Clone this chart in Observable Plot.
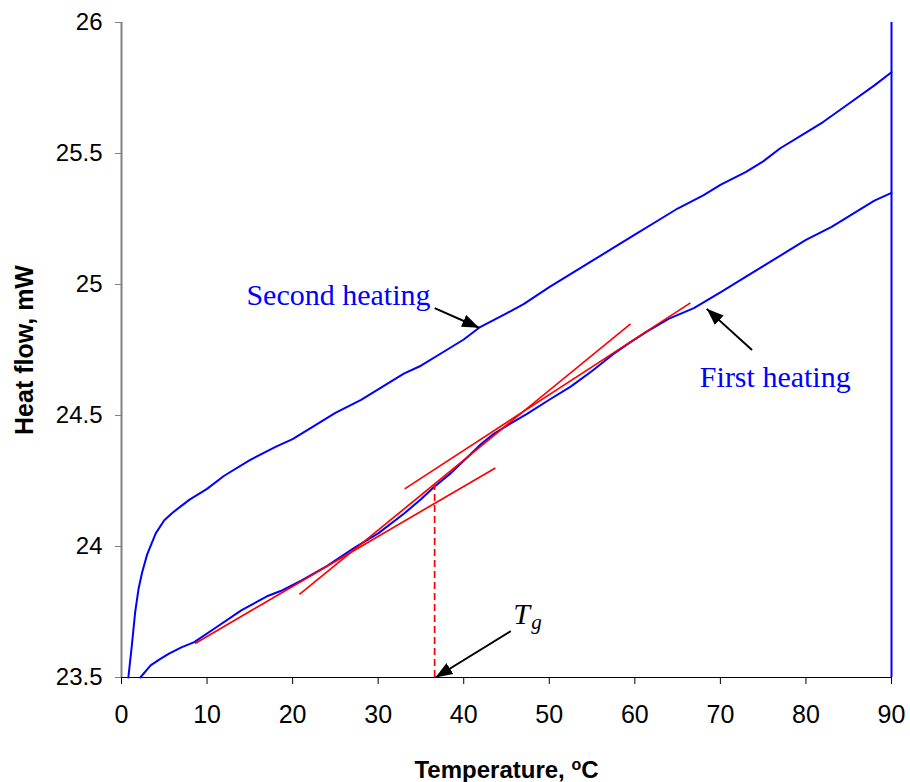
<!DOCTYPE html>
<html>
<head>
<meta charset="utf-8">
<script src="https://cdn.jsdelivr.net/npm/d3@7"></script>
<script src="https://cdn.jsdelivr.net/npm/@observablehq/plot@0.6"></script>
<style>
  html, body { margin: 0; padding: 0; background: white; }
</style>
</head>
<body>
<div id="chart"></div>
<script>
// ---- Data ----
const xTicks = [0, 10, 20, 30, 40, 50, 60, 70, 80, 90];
const yTicks = [23.5, 24, 24.5, 25, 25.5, 26];

// Second heating (temperature °C, heat flow mW)
const secondT  = [0.8, 1.2, 1.6, 2.0, 2.4, 3.0, 3.5, 4.0, 5.0, 6.0, 7.0, 8.0, 10, 12, 15, 18, 20, 22, 25, 28, 30, 33, 35, 38, 40, 41.8, 45, 47, 50, 53, 55, 58, 60, 63, 65, 68, 70, 73, 75, 77, 80, 82, 85, 88, 90];
const secondHF = [23.50, 23.62, 23.75, 23.84, 23.90, 23.97, 24.01, 24.05, 24.10, 24.13, 24.155, 24.18, 24.22, 24.27, 24.33, 24.38, 24.41, 24.45, 24.51, 24.56, 24.60, 24.66, 24.69, 24.75, 24.79, 24.835, 24.89, 24.925, 24.99, 25.05, 25.09, 25.15, 25.19, 25.25, 25.29, 25.34, 25.38, 25.43, 25.47, 25.52, 25.58, 25.62, 25.69, 25.76, 25.81];

// First heating
const firstT  = [2.2, 3.4, 4.5, 5.5, 7.0, 8.5, 11, 14, 17, 18.6, 21, 24, 27.3, 30, 33, 35, 36.5, 38.5, 40.4, 42, 43.5, 45.5, 47.4, 50, 52.5, 55, 57.5, 59.5, 61.4, 64, 66.9, 70, 73, 75, 78, 80, 83, 85, 88, 90];
const firstHF = [23.50, 23.546, 23.57, 23.59, 23.615, 23.635, 23.69, 23.756, 23.81, 23.83, 23.87, 23.925, 23.997, 24.05, 24.125, 24.18, 24.226, 24.28, 24.34, 24.39, 24.43, 24.47, 24.506, 24.56, 24.61, 24.67, 24.735, 24.78, 24.82, 24.87, 24.91, 24.97, 25.03, 25.07, 25.13, 25.17, 25.22, 25.26, 25.32, 25.35];

// Tangent construction lines (red)
const tanX1 = [8.6, 20.8, 33.1];
const tanY1 = [23.63, 23.817, 24.22];
const tanX2 = [43.7, 59.5, 66.5];
const tanY2 = [24.30, 24.85, 24.93];

// Glass transition marker
const tgT = [36.6];
const tgTop = 24.23;
const endT = [90];

// Annotation arrows (tail -> tip)
const arrX1 = [36.6, 73.7, 45.5];
const arrY1 = [24.91, 24.75, 23.677];
const arrX2 = [41.8, 68.4, 36.7];
const arrY2 = [24.835, 24.907, 23.5];

// Curve labels
const labelText = ["Second heating", "First heating"];
const labelX = [14.6, 67.6];
const labelY = [24.92, 24.61];

const tgMain = {text: "T", x: 45.8, y: 23.706};
const tgSub = {text: "g", x: 47.9, y: 23.687};

const xTitle = "Temperature, °C";
const yTitle = "Heat flow, mW";

// ---- Build tables ----
const second = secondT.map((t, i) => ({t, hf: secondHF[i]}));
const first = firstT.map((t, i) => ({t, hf: firstHF[i]}));
const tangents = tanX1.map((x1, i) => ({x1, y1: tanY1[i], x2: tanX2[i], y2: tanY2[i]}));
const arrows = arrX1.map((x1, i) => ({x1, y1: arrY1[i], x2: arrX2[i], y2: arrY2[i]}));
const labels = labelText.map((text, i) => ({text, x: labelX[i], y: labelY[i]}));

const sans = "'Liberation Sans', Arial, sans-serif";
const serif = "'Liberation Serif', 'Times New Roman', serif";

const chart = Plot.plot({
  width: 910,
  height: 782,
  marginLeft: 121,
  marginRight: 19,
  marginTop: 22,
  marginBottom: 105,
  style: {fontFamily: sans, background: "white", color: "black"},
  x: {domain: [0, 90]},
  y: {domain: [23.5, 26]},
  marks: [
    Plot.axisX({ticks: xTicks, tickSize: 7, tickPadding: 21, fontSize: 25, label: null, stroke: "black", tickFormat: d => `${d}`}),
    Plot.axisY({ticks: yTicks, tickSize: 6, tickPadding: 13, fontSize: 24, label: null, stroke: "#808080", tickFormat: d => `${d}`}),
    Plot.ruleX([0], {stroke: "#808080", strokeWidth: 2}),
    Plot.ruleY([23.5], {stroke: "black", strokeWidth: 1}),
    Plot.ruleX(endT, {y1: 23.5, y2: 26, stroke: "#0000FF", strokeWidth: 2}),
    Plot.line(second, {x: "t", y: "hf", stroke: "#0000FF", strokeWidth: 2}),
    Plot.line(first, {x: "t", y: "hf", stroke: "#0000FF", strokeWidth: 2}),
    Plot.link(tangents, {x1: "x1", y1: "y1", x2: "x2", y2: "y2", stroke: "#FF0000", strokeWidth: 1.7}),
    Plot.ruleX(tgT, {y1: 23.5, y2: tgTop, stroke: "#FF0000", strokeWidth: 1.7, strokeDasharray: "7,4"}),
    Plot.link(arrows, {x1: "x1", y1: "y1", x2: "x2", y2: "y2", stroke: "black", strokeWidth: 2, markerEnd: "arrow"}),
    Plot.text(labels, {x: "x", y: "y", text: "text", textAnchor: "start", lineAnchor: "bottom", fontFamily: serif, fontSize: 30, fill: "#0000FF"}),
    Plot.text([tgMain], {x: "x", y: "y", text: "text", textAnchor: "start", lineAnchor: "bottom", fontFamily: serif, fontStyle: "italic", fontSize: 30, fill: "black"}),
    Plot.text([tgSub], {x: "x", y: "y", text: "text", textAnchor: "start", lineAnchor: "bottom", fontFamily: serif, fontStyle: "italic", fontSize: 21, fill: "black"}),
    Plot.text([xTitle], {frameAnchor: "bottom", dy: 100, textAnchor: "middle", lineAnchor: "bottom", fontSize: 24, fontWeight: "bold", fill: "black"}),
    Plot.text([yTitle], {frameAnchor: "left", dx: -97, rotate: -90, textAnchor: "middle", lineAnchor: "middle", fontSize: 25, fontWeight: "bold", fill: "black"})
  ]
});

// Filled triangular arrow heads
chart.querySelectorAll("marker").forEach(m => {
  m.setAttribute("markerUnits", "userSpaceOnUse");
  m.setAttribute("viewBox", "-17 -7 17 14");
  m.setAttribute("markerWidth", 17);
  m.setAttribute("markerHeight", 14);
  m.setAttribute("fill", "black");
  m.setAttribute("stroke", "none");
  const p = m.querySelector("path");
  if (p) {
    p.setAttribute("d", "M-17,-6.5L0,0L-17,6.5Z");
    p.setAttribute("fill", "black");
    p.setAttribute("stroke", "none");
  }
});

// Superscript "o" for the degree sign in the x title
chart.querySelectorAll("text").forEach(t => {
  if (t.textContent === xTitle) {
    const parts = xTitle.split("°");
    t.textContent = "";
    const ns = "http://www.w3.org/2000/svg";
    const a = document.createElementNS(ns, "tspan");
    a.textContent = parts[0];
    const o = document.createElementNS(ns, "tspan");
    o.textContent = "o";
    o.setAttribute("font-size", "16");
    o.setAttribute("dy", "-0.45em");
    const c = document.createElementNS(ns, "tspan");
    c.textContent = parts[1];
    c.setAttribute("dy", "0.3em");
    t.appendChild(a); t.appendChild(o); t.appendChild(c);
  }
});

document.getElementById("chart").appendChild(chart);
</script>
</body>
</html>
